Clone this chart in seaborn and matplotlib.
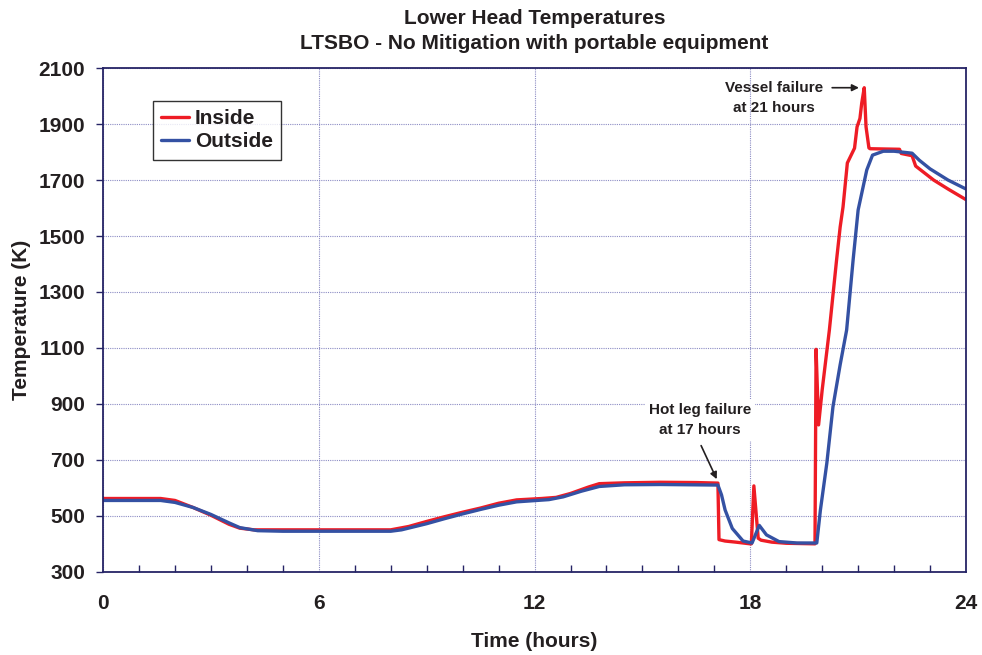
import matplotlib.pyplot as plt
import numpy as np
import pandas as pd
import seaborn as sns
from matplotlib.ticker import MultipleLocator

# data
inside_time = [0, 1.6, 2.0, 2.5, 3.0, 3.5, 3.8, 4.2, 5.0, 8.0, 8.5, 9.0, 9.5, 10.0,
               10.5, 11.0, 11.5, 12.2, 12.6, 13.0, 13.5, 13.8, 14.5, 15.5, 16.5,
               17.10, 17.13, 17.3, 17.6, 18.0, 18.03, 18.1, 18.22, 18.3, 18.6, 19.0,
               19.80, 19.83, 19.90, 20.0, 20.2, 20.4, 20.5, 20.58, 20.7, 20.9, 20.97,
               21.05, 21.1, 21.17, 21.22, 21.3, 21.33, 22.15, 22.2, 22.5, 22.6,
               23.1, 23.5, 24.0]
inside_temp = [562, 562, 555, 530, 502, 470, 456, 450, 450, 450, 462, 480, 497, 513,
               528, 545, 557, 562, 566, 580, 603, 615, 618, 620, 619,
               617, 415, 410, 406, 400, 400, 607, 420, 413, 406, 402,
               400, 1095, 825, 950, 1164, 1414, 1532, 1604, 1761, 1814, 1890,
               1920, 1975, 2030, 1890, 1815, 1812, 1810, 1795, 1787, 1750,
               1700, 1668, 1630]

outside_time = [0, 1.6, 2.0, 2.5, 3.0, 3.5, 3.8, 4.3, 5.0, 8.0, 8.3, 9.0, 9.5, 10.0,
                10.5, 11.0, 11.5, 12.4, 12.8, 13.3, 13.8, 14.5, 15.5, 17.1, 17.2,
                17.3, 17.5, 17.8, 18.05, 18.25, 18.45, 18.8, 19.3, 19.85, 19.95,
                20.13, 20.3, 20.5, 20.68, 20.86, 21.0, 21.24, 21.4, 21.7, 22.0,
                22.5, 22.7, 23.0, 23.5, 24.0]
outside_temp = [555, 555, 548, 530, 505, 475, 458, 447, 445, 445, 450, 472, 490, 507,
                523, 538, 550, 558, 568, 588, 605, 611, 612, 610, 575,
                521, 455, 410, 403, 466, 432, 408, 403, 403, 520,
                689, 890, 1040, 1164, 1414, 1593, 1736, 1789, 1803, 1803,
                1796, 1771, 1740, 1700, 1668]

x_ticks = [0, 6, 12, 18, 24]
y_ticks = list(range(300, 2101, 200))

sns.set_style("white")
plt.rcParams["font.family"] = ["Liberation Sans", "DejaVu Sans"]
plt.rcParams["font.weight"] = "bold"
plt.rcParams["text.color"] = "#231f20"
plt.rcParams["xtick.color"] = "#231f20"
plt.rcParams["ytick.color"] = "#231f20"
plt.rcParams["axes.labelcolor"] = "#231f20"

navy = "#262466"
red = "#ee1c25"
blue = "#3451a3"
ink = "#231f20"

fig = plt.figure(figsize=(9.82, 6.55), dpi=100)
ax = fig.add_axes([0.105, 0.127, 0.8787, 0.769])

sns.lineplot(x=inside_time, y=inside_temp, color=red, lw=2.4, label="Inside",
             sort=False, estimator=None, ax=ax)
sns.lineplot(x=outside_time, y=outside_temp, color=blue, lw=2.4, label="Outside",
             sort=False, estimator=None, ax=ax)

ax.set_xlim(0, 24)
ax.set_ylim(300, 2100)
ax.set_xticks(x_ticks)
ax.set_yticks(y_ticks)
ax.xaxis.set_minor_locator(MultipleLocator(1))
ax.tick_params(axis="x", which="major", direction="out", length=8, width=1,
               color=navy, labelsize=15, pad=8)
ax.tick_params(axis="x", which="minor", direction="in", length=5, width=1,
               color=navy, bottom=True)
ax.tick_params(axis="y", which="major", direction="out", length=5, width=1,
               color=navy, labelsize=15, left=True, pad=8)
for lab in ax.get_xticklabels() + ax.get_yticklabels():
    lab.set_fontweight("bold")

ax.grid(True, which="major", color="#8c8cc4", linestyle=(0, (1, 1)), linewidth=0.8)
for side in ax.spines.values():
    side.set_color(navy)
    side.set_linewidth(1.3)

ax.set_xlabel("Time (hours)", fontsize=15, fontweight="bold", labelpad=14)
ax.set_ylabel("Temperature (K)", fontsize=15, fontweight="bold", labelpad=5)
ax.set_title("Lower Head Temperatures\nLTSBO - No Mitigation with portable equipment",
             fontsize=15, fontweight="bold", pad=14, linespacing=1.35)

leg = ax.legend(loc="upper left", bbox_to_anchor=(0.058, 0.935), fontsize=15,
                frameon=True, fancybox=False, handlelength=1.3, handletextpad=0.3,
                borderpad=0.4, labelspacing=0.2, borderaxespad=0)
leg.get_frame().set_edgecolor("black")
leg.get_frame().set_linewidth(1.0)
for t in leg.get_texts():
    t.set_fontweight("bold")

ax.text(18.65, 1993, "Vessel failure\nat 21 hours", ha="center", va="center",
        fontsize=11, fontweight="bold", color=ink, linespacing=1.5)
ax.annotate("", xy=(21.1, 2030), xytext=(20.2, 2030),
            arrowprops=dict(arrowstyle="-|>", color=ink, lw=1.2, mutation_scale=10))

ax.text(16.6, 843, "Hot leg failure\nat 17 hours", ha="center", va="center",
        fontsize=11, fontweight="bold", color=ink, linespacing=1.5,
        bbox=dict(facecolor="white", edgecolor="none", pad=3))
ax.annotate("", xy=(17.1, 622), xytext=(16.6, 760),
            arrowprops=dict(arrowstyle="-|>", color=ink, lw=1.2, mutation_scale=10))

fig.savefig("out.png", dpi=100)
